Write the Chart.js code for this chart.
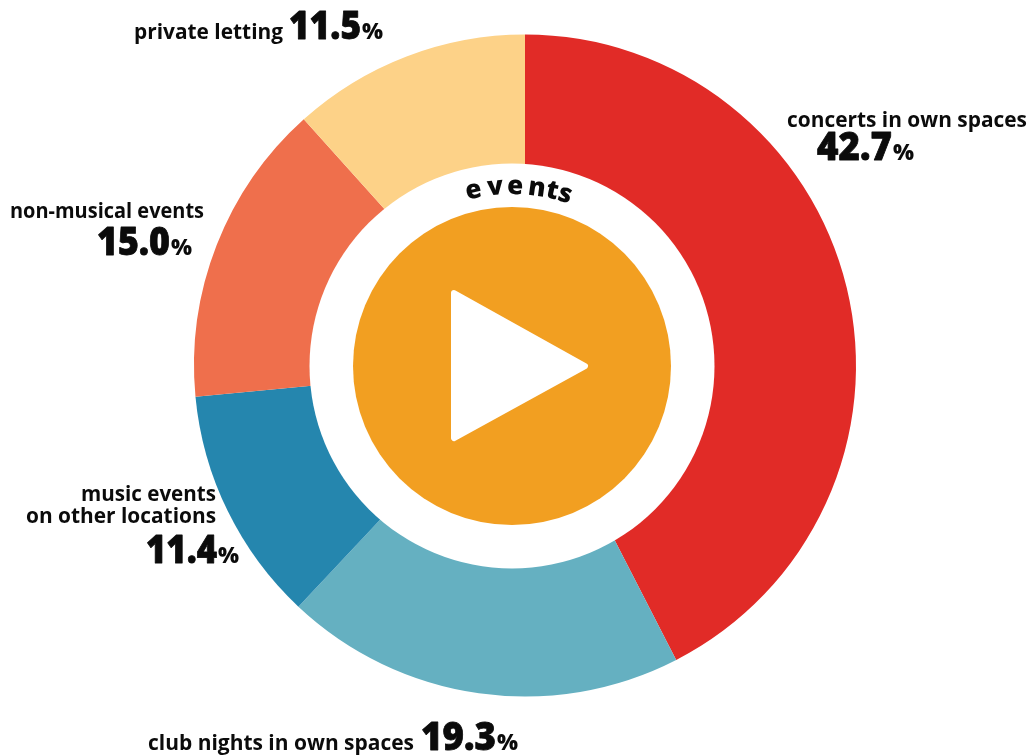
<!DOCTYPE html>
<html>
<head>
<meta charset="utf-8">
<title>events</title>
<script src="https://cdn.jsdelivr.net/npm/chart.js@4/dist/chart.umd.min.js"></script>
<style>
    html, body { margin: 0; padding: 0; background: #fff; }
    canvas { display: block; }
</style>
</head>
<body>
<canvas id="piechart" width="1029" height="755"></canvas>
<script>
"use strict";
// Data
var categories = ["concerts in own spaces", "club nights in own spaces", "music events on other locations", "non-musical events", "private letting"];
// slice sizes as measured off the arcs, they differ a little from the printed figures
var sliceShares = [42.45, 19.55, 11.5, 14.85, 11.65];
var sliceColors = ["#E12B27", "#65B0C1", "#2586AE", "#EF6F4C", "#FDD288"];
// printed figures
var shareLabels = ["42.7", "19.3", "11.4", "15.0", "11.5"];

// where the labels sit: text lines [string, left, baseline, width], then number left + baseline + width, then % left
var labelLayout = [
    { lines: [[categories[0], 787, 127, 240]], num: [817, 160, 75], pct: 893 },
    { lines: [[categories[1], 148, 750, 266]], num: [421, 750, 75], pct: 497 },
    { lines: [["music events", 81, 501, 135], ["on other locations", 26, 523, 190]], num: [146, 563, 71], pct: 218 },
    { lines: [[categories[3], 10, 218, 194]], num: [97, 255, 73], pct: 171 },
    { lines: [[categories[4], 134, 39, 149]], num: [289, 39, 72], pct: 362 }
];

var textFont = "700 21px 'Open Sans'";
var numFont = "800 38px 'Open Sans'";
var pctFont = "800 23px 'Open Sans'";
var orange = "#F29F21";
var ink = "#0b0b0b";

// white hole and orange disc are not concentric with the ring
var centerPlugin = {
    id: "centerPlugin",
    afterDraw: function (chart) {
        var ctx = chart.ctx;
        ctx.save();
        ctx.fillStyle = "#fff";
        ctx.beginPath();
        ctx.arc(512, 366, 202.5, 0, Math.PI * 2);
        ctx.fill();
        ctx.fillStyle = orange;
        ctx.beginPath();
        ctx.arc(512, 366, 159, 0, Math.PI * 2);
        ctx.fill();

        // play symbol
        ctx.fillStyle = "#fff";
        ctx.strokeStyle = "#fff";
        ctx.lineWidth = 6;
        ctx.lineJoin = "round";
        ctx.beginPath();
        ctx.moveTo(454, 293);
        ctx.lineTo(585, 366);
        ctx.lineTo(454, 438);
        ctx.closePath();
        ctx.fill();
        ctx.stroke();

        // curved title
        var letters = "events".split("");
        var angles = [-12.4, -5.4, 1, 8.0, 13.0, 17.2];
        ctx.fillStyle = ink;
        ctx.font = "800 26px 'Open Sans'";
        ctx.textAlign = "center";
        ctx.textBaseline = "alphabetic";
        letters.forEach(function (ch, i) {
            ctx.save();
            ctx.translate(512, 366);
            ctx.rotate(angles[i] * Math.PI / 180);
            ctx.fillText(ch, 0, -172);
            ctx.restore();
        });

        // slice labels
        ctx.textAlign = "left";
        ctx.fillStyle = ink;
        ctx.strokeStyle = ink;
        ctx.lineWidth = 0.8;
        labelLayout.forEach(function (lab, i) {
            ctx.font = textFont;
            lab.lines.forEach(function (l) {
                ctx.fillText(l[0], l[1], l[2], l[3]);
            });
            ctx.font = numFont;
            ctx.fillText(shareLabels[i], lab.num[0], lab.num[1], lab.num[2]);
            ctx.strokeText(shareLabels[i], lab.num[0], lab.num[1], lab.num[2]);
            ctx.font = pctFont;
            ctx.fillText("%", lab.pct, lab.num[1], 21);
        });
        ctx.restore();
    }
};

var piectx = document.getElementById("piechart").getContext("2d");
window.pieChart = new Chart(piectx, {
    type: "pie",
    data: {
        labels: categories,
        datasets: [{
            data: sliceShares,
            backgroundColor: sliceColors,
            borderWidth: 0
        }]
    },
    options: {
        responsive: false,
        animation: false,
        events: [],
        layout: { padding: { left: 194, right: 173, top: 34, bottom: 58 } },
        plugins: { legend: { display: false }, tooltip: { enabled: false } }
    },
    plugins: [centerPlugin]
});
</script>
</body>
</html>
